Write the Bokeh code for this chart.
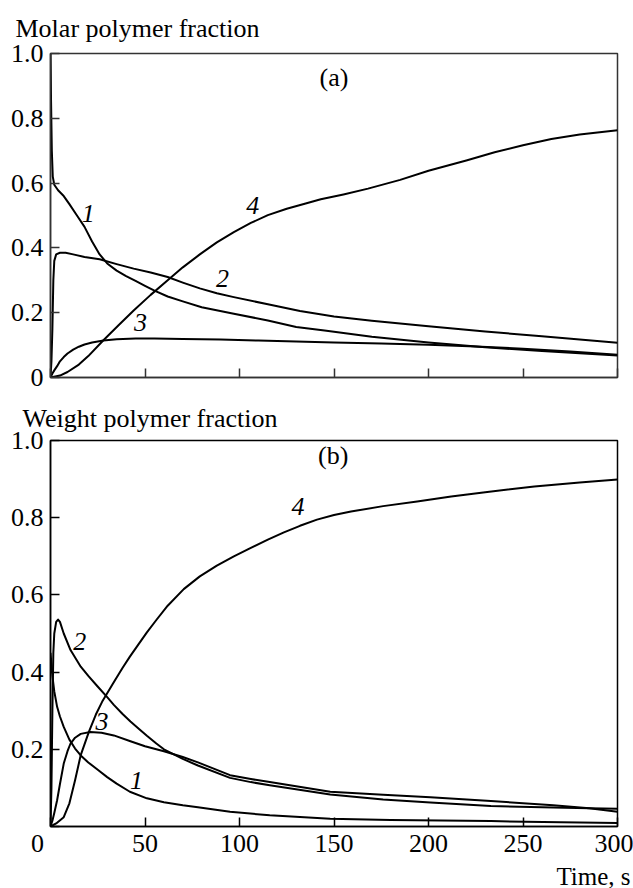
from bokeh.plotting import figure
from bokeh.models import Range1d, FixedTicker, Label, PrintfTickFormatter, Title
from bokeh.layouts import column
from bokeh.embed import file_html
from bokeh.resources import INLINE

FONT = "Liberation Serif"

X_TICKS = [0, 50, 100, 150, 200, 250, 300]
Y_TICKS = [0, 0.2, 0.4, 0.6, 0.8, 1.0]

# ---- (a) Molar polymer fraction ----
t_a1 = [0, 0.3, 0.7, 1.2, 2, 4, 7, 10, 14, 18, 22, 26, 30, 35, 40, 45, 50, 55, 62, 70, 80, 97, 115, 130, 145, 170, 200, 230, 260, 300]
a1 = [1.0, 0.85, 0.7, 0.62, 0.595, 0.578, 0.56, 0.535, 0.5, 0.465, 0.42, 0.38, 0.352, 0.33, 0.313, 0.298, 0.283, 0.268, 0.25, 0.235, 0.217, 0.197, 0.176, 0.156, 0.145, 0.126, 0.108, 0.093, 0.082, 0.068]

t_a2 = [0, 0.5, 1, 1.5, 2, 3, 5, 8, 12, 18, 26, 35, 44, 53, 62, 70, 79, 88, 97, 115, 132, 150, 170, 200, 230, 260, 300]
a2 = [0, 0.05, 0.15, 0.3, 0.36, 0.38, 0.385, 0.385, 0.38, 0.372, 0.365, 0.35, 0.336, 0.324, 0.31, 0.293, 0.275, 0.26, 0.248, 0.226, 0.205, 0.188, 0.175, 0.158, 0.142, 0.127, 0.107]

t_a3 = [0, 1, 2, 3.5, 5, 7, 9, 12, 15, 18, 22, 28, 35, 45, 55, 70, 90, 110, 130, 150, 175, 200, 225, 250, 275, 300]
a3 = [0, 0.012, 0.022, 0.035, 0.05, 0.063, 0.074, 0.086, 0.095, 0.102, 0.108, 0.114, 0.118, 0.12, 0.12, 0.119, 0.117, 0.114, 0.111, 0.108, 0.105, 0.101, 0.096, 0.089, 0.08, 0.07]

t_a4 = [0, 5, 9, 15, 20, 28, 36, 44, 53, 62, 70, 79, 88, 97, 106, 115, 125, 135, 143, 155, 168, 185, 200, 220, 235, 250, 265, 280, 300]
a4 = [0, 0.006, 0.017, 0.04, 0.066, 0.115, 0.161, 0.207, 0.255, 0.3, 0.34, 0.38, 0.417, 0.449, 0.477, 0.501, 0.521, 0.537, 0.55, 0.565, 0.583, 0.61, 0.638, 0.67, 0.695, 0.717, 0.736, 0.75, 0.763]

# ---- (b) Weight polymer fraction ----
t_b1 = [0, 1, 2, 3.5, 5, 7, 10, 13, 16, 20, 25, 30, 35, 42, 51, 60, 70, 78, 95, 116, 148, 180, 233, 270, 300]
b1 = [0.45, 0.39, 0.35, 0.31, 0.285, 0.258, 0.225, 0.202, 0.184, 0.166, 0.147, 0.128, 0.111, 0.09, 0.073, 0.063, 0.055, 0.05, 0.038, 0.029, 0.02, 0.017, 0.014, 0.011, 0.009]

t_b2 = [0, 0.5, 1, 1.5, 2, 3, 4, 5, 7, 10.6, 16, 20, 24.7, 30, 33.5, 38, 42.3, 47, 51, 56, 60, 70, 78, 95, 106, 116, 148, 176, 201, 233, 266, 285, 300]
b2 = [0, 0.1, 0.3, 0.45, 0.5, 0.53, 0.536, 0.53, 0.5, 0.457, 0.414, 0.39, 0.364, 0.335, 0.315, 0.292, 0.272, 0.252, 0.235, 0.215, 0.2, 0.175, 0.158, 0.126, 0.115, 0.107, 0.083, 0.07, 0.062, 0.053, 0.049, 0.047, 0.046]

t_b3 = [0, 1, 2, 3.5, 5, 7, 9, 10.6, 13, 16, 21, 27, 33.5, 42.3, 50, 56, 60, 70, 78, 95, 106, 116, 148, 176, 201, 233, 266, 285, 300]
b3 = [0, 0.015, 0.035, 0.068, 0.11, 0.163, 0.195, 0.215, 0.23, 0.24, 0.245, 0.243, 0.236, 0.221, 0.208, 0.2, 0.195, 0.18, 0.166, 0.133, 0.123, 0.115, 0.09, 0.082, 0.076, 0.066, 0.055, 0.047, 0.038]

t_b4 = [0, 3, 7, 10, 13, 16, 20.3, 24, 27.3, 33, 38, 42, 47, 51, 56, 62, 70.5, 79, 88, 97, 106, 115, 123.5, 132, 141, 150, 159, 176, 194, 212, 230, 256, 280, 300]
b4 = [0, 0.008, 0.024, 0.06, 0.12, 0.185, 0.245, 0.29, 0.323, 0.37, 0.41, 0.44, 0.475, 0.503, 0.535, 0.572, 0.615, 0.648, 0.676, 0.7, 0.722, 0.743, 0.762, 0.779, 0.795, 0.807, 0.816, 0.83, 0.842, 0.855, 0.866, 0.881, 0.891, 0.899]

a_labels = ["1", "2", "3", "4"]
a_label_t = [20, 91, 47.6, 107]
a_label_v = [0.505, 0.305, 0.17, 0.53]
b_labels = ["1", "2", "3", "4"]
b_label_t = [45.5, 15.5, 27.3, 131]
b_label_v = [0.12, 0.479, 0.271, 0.83]


def make_fig(frame_h, top, bottom, outline):
    p = figure(width=633, frame_width=567, frame_height=frame_h,
               output_backend="svg", toolbar_location=None,
               x_range=Range1d(0, 300), y_range=Range1d(0, 1),
               min_border_left=50, min_border_right=16,
               min_border_top=top, min_border_bottom=bottom)
    p.grid.visible = False
    p.outline_line_color = outline
    p.outline_line_width = 1.5
    p.background_fill_color = "white"
    p.border_fill_color = "white"
    for ax in (p.xaxis[0], p.yaxis[0]):
        ax.major_tick_in = 9
        ax.major_tick_out = 0
        ax.minor_tick_in = 0
        ax.minor_tick_out = 0
        ax.axis_line_width = 1.5
        ax.axis_line_color = outline
        ax.major_tick_line_width = 1.5
        ax.major_tick_line_color = outline
        ax.major_label_text_font = FONT
        ax.major_label_text_font_size = "26px"
        ax.major_label_text_color = "black"
        ax.major_label_standoff = 7
    p.xaxis.ticker = FixedTicker(ticks=X_TICKS)
    p.yaxis.ticker = FixedTicker(ticks=Y_TICKS)
    p.yaxis.formatter = PrintfTickFormatter(format="%.1f")
    return p


def lbl(p, x, y, text, italic=False):
    p.add_layout(Label(x=x, y=y, text=text, text_font=FONT, text_font_size="26px",
                       text_font_style="italic" if italic else "normal",
                       text_align="center", text_baseline="middle", text_color="black"))


def ttl(text, align, offset, standoff, size="26px"):
    return Title(text=text, align=align, offset=offset, standoff=standoff,
                 text_font=FONT, text_font_size=size, text_font_style="normal",
                 text_color="black")


# top panel
p1 = make_fig(324, 53, 16, "#333333")
p1.add_layout(ttl("Molar polymer fraction", "left", -35, 22), "above")
p1.xaxis.major_label_overrides = {t: "" for t in X_TICKS}
p1.xaxis.major_label_text_font_size = "1px"
p1.xaxis.major_label_standoff = 0
p1.yaxis.major_label_overrides = {0: "0"}
for tx, vy in [(t_a1, a1), (t_a2, a2), (t_a3, a3), (t_a4, a4)]:
    p1.line(tx, vy, line_color="black", line_width=2, line_join="round")
for s, x, y in zip(a_labels, a_label_t, a_label_v):
    lbl(p1, x, y, s, italic=True)
lbl(p1, 150, 0.926, "(a)")

# bottom panel
p2 = make_fig(386, 47, 56, "black")
p2.add_layout(ttl("Weight polymer fraction", "left", -28, 16), "above")
p2.add_layout(ttl("Time, s", "right", -13, 0, "25px"), "below")
p2.xaxis.major_label_standoff = 2
p2.xaxis.major_label_overrides = {0: "0\u00a0\u00a0\u00a0\u00a0"}
p2.yaxis.major_label_overrides = {0: ""}
for tx, vy in [(t_b1, b1), (t_b2, b2), (t_b3, b3), (t_b4, b4)]:
    p2.line(tx, vy, line_color="black", line_width=2, line_join="round")
for s, x, y in zip(b_labels, b_label_t, b_label_v):
    lbl(p2, x, y, s, italic=True)
lbl(p2, 149.6, 0.962, "(b)")

layout = column(p1, p2, spacing=0)
open("out.html", "w").write(file_html(layout, INLINE))
